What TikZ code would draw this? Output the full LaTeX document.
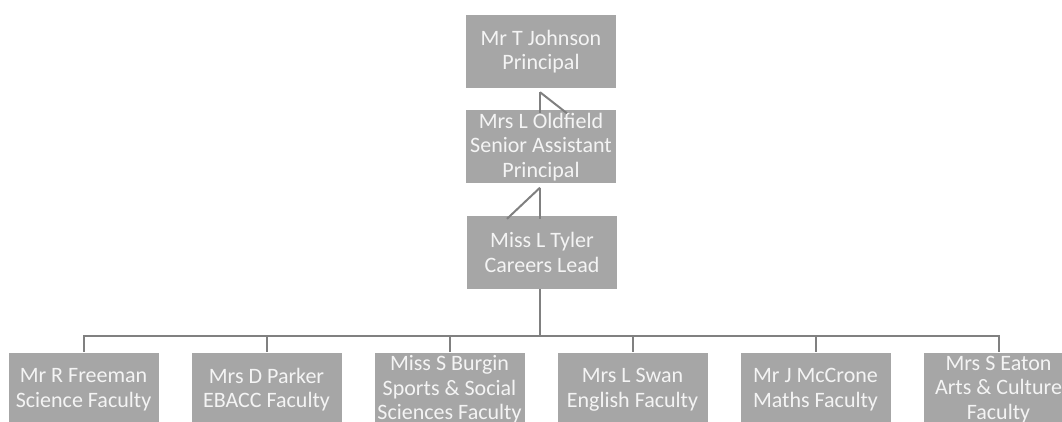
\documentclass[tikz,border=0pt]{standalone}
\usepackage{fontspec}
\setmainfont{Carlito}
\usetikzlibrary{calc,positioning}
\definecolor{boxgrey}{HTML}{A6A6A6}
\definecolor{linegrey}{HTML}{808080}
\definecolor{textwhite}{HTML}{F4F4F4}
\tikzstyle{staff} = [rectangle, minimum width=150pt, minimum height=73pt, inner sep=0pt, text centered, align=center, fill=boxgrey, text=textwhite, font=\fontsize{22}{24.5}\selectfont]
\tikzstyle{link} = [line width=2pt, draw=linegrey]

\begin{document}
\begin{tikzpicture}[x=1pt,y=1pt,node distance=183pt]
\useasboundingbox (0,0) rectangle (1062,-422);
\clip (0,0) rectangle (1062,-422);
 \node (jo) [staff] at (541,-51.5) {Mr T Johnson\\Principal};
 \node (ol) [staff] at (541,-147) {Mrs L Oldfield\\Senior Assistant\\Principal};
 \node (tl) [staff] at (542,-252.5) {Miss L Tyler\\Careers Lead};
 \node (f1) [staff] at (83.5,-389.5) {Mr R Freeman\\Science Faculty};
 \node (f2) [staff,right of=f1] {Mrs D Parker\\EBACC Faculty};
 \node (f3) [staff,right of=f2] {Miss S Burgin\\Sports \& Social\\Sciences Faculty};
 \node (f4) [staff,right of=f3] {Mrs L Swan\\English Faculty};
 \node (f5) [staff,right of=f4] {Mr J McCrone\\Maths Faculty};
 \node (f6) [staff,right of=f5] {Mrs S Eaton\\Arts \& Culture\\Faculty};
% odd little links between the top three boxes
\coordinate (a1) at ($(jo.south)+(-1,-4)$);
\coordinate (a2) at ($(ol.north)+(-1,-3)$);
\coordinate (a3) at ($(ol.north)+(26,-3)$);
\draw [link] (a1) -- (a2);
\draw [link] (a1) -- (a3);
\coordinate (b1) at ($(ol.south)+(-1,-4)$);
\coordinate (b2) at ($(tl.north)+(-2,-3)$);
\coordinate (b3) at ($(tl.north)+(-35,-3)$);
\draw [link] (b1) -- (b2);
\draw [link] (b1) -- (b3);
% bus to the faculties
\coordinate (bus) at ($(tl.south)+(-2,-47)$);
\draw [link] ($(tl.south)+(-2,0)$) -- (bus);
\foreach \f in {f1,f2,f3,f4,f5,f6}
  \draw [link,shorten >=1pt] (bus) -| (\f.north);
\end{tikzpicture}
\end{document}
